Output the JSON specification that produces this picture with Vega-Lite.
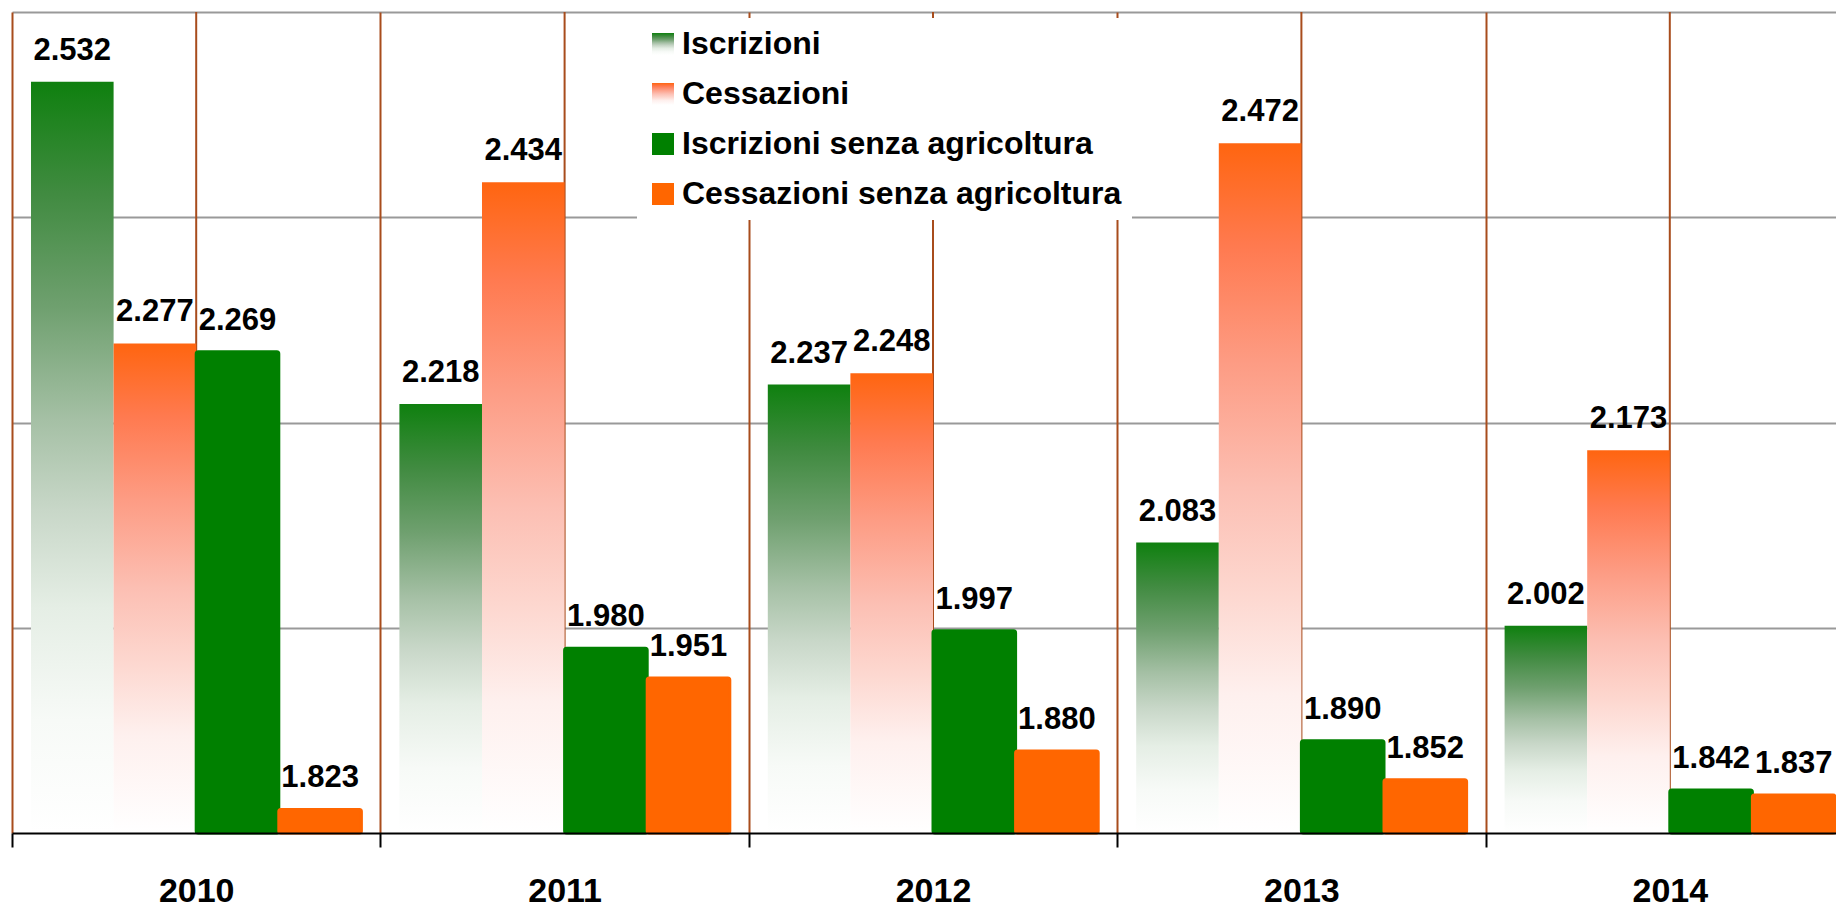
{
  "$schema": "https://vega.github.io/schema/vega-lite/v6.json",
  "width": 1842,
  "height": 821,
  "autosize": "none",
  "padding": {"left": 12, "top": 12, "right": 0, "bottom": 71},
  "background": "white",
  "config": {
    "font": "Liberation Sans",
    "view": {"stroke": null},
    "locale": {"number": {"decimal": ",", "thousands": ".", "grouping": [3], "currency": ["€", ""]}}
  },
  "data": {
    "values": [
      {"anno": "2010", "serie": "Iscrizioni", "valore": 2532},
      {"anno": "2011", "serie": "Iscrizioni", "valore": 2218},
      {"anno": "2012", "serie": "Iscrizioni", "valore": 2237},
      {"anno": "2013", "serie": "Iscrizioni", "valore": 2083},
      {"anno": "2014", "serie": "Iscrizioni", "valore": 2002},
      {"anno": "2010", "serie": "Cessazioni", "valore": 2277},
      {"anno": "2011", "serie": "Cessazioni", "valore": 2434},
      {"anno": "2012", "serie": "Cessazioni", "valore": 2248},
      {"anno": "2013", "serie": "Cessazioni", "valore": 2472},
      {"anno": "2014", "serie": "Cessazioni", "valore": 2173},
      {"anno": "2010", "serie": "Iscrizioni senza agricoltura", "valore": 2269},
      {"anno": "2011", "serie": "Iscrizioni senza agricoltura", "valore": 1980},
      {"anno": "2012", "serie": "Iscrizioni senza agricoltura", "valore": 1997},
      {"anno": "2013", "serie": "Iscrizioni senza agricoltura", "valore": 1890},
      {"anno": "2014", "serie": "Iscrizioni senza agricoltura", "valore": 1842},
      {"anno": "2010", "serie": "Cessazioni senza agricoltura", "valore": 1823},
      {"anno": "2011", "serie": "Cessazioni senza agricoltura", "valore": 1951},
      {"anno": "2012", "serie": "Cessazioni senza agricoltura", "valore": 1880},
      {"anno": "2013", "serie": "Cessazioni senza agricoltura", "valore": 1852},
      {"anno": "2014", "serie": "Cessazioni senza agricoltura", "valore": 1837}
    ]
  },
  "encoding": {
    "x": {
      "field": "anno",
      "type": "nominal",
      "title": null,
      "scale": {"paddingInner": 0, "paddingOuter": 0},
      "axis": {
        "labelFontSize": 34,
        "labelFontWeight": "bold",
        "labelColor": "black",
        "labelAngle": 0,
        "labelPadding": 27,
        "tickBand": "extent",
        "tickSize": 14,
        "tickColor": "black",
        "tickWidth": 2,
        "domainColor": "black",
        "domainWidth": 2,
        "grid": true,
        "gridColor": "#a84c1c",
        "gridWidth": 2,
        "gridOpacity": 1,
        "zindex": 1
      }
    }
  },
  "layer": [
    {
      "transform": [{"filter": "datum.serie === 'Iscrizioni'"}],
      "mark": {"type": "rule", "color": "#a84c1c", "strokeWidth": 2},
      "encoding": {"x": {"field": "anno", "type": "nominal"}}
    },
    {
      "transform": [{"filter": "datum.serie === 'Iscrizioni' || datum.serie === 'Cessazioni'"}],
      "mark": {"type": "bar"},
      "encoding": {
        "xOffset": {
          "field": "serie",
          "type": "nominal",
          "scale": {"domain": ["Iscrizioni", "Cessazioni", "Iscrizioni senza agricoltura", "Cessazioni senza agricoltura"], "paddingInner": 0, "paddingOuter": 0.23}
        },
        "y": {
          "field": "valore",
          "type": "quantitative",
          "title": null,
          "scale": {"domain": [1800, 2600], "zero": false, "nice": false},
          "axis": {
            "labels": false,
            "ticks": false,
            "domain": false,
            "grid": true,
            "gridColor": "#999999",
            "gridWidth": 2,
            "gridOpacity": 1,
            "values": [2000, 2200, 2400, 2600],
            "zindex": 0
          }
        },
        "y2": {"datum": 1800},
        "color": {
          "field": "serie",
          "type": "nominal",
          "scale": {
            "domain": ["Iscrizioni", "Cessazioni", "Iscrizioni senza agricoltura", "Cessazioni senza agricoltura"],
            "range": [
              {"expr": "{gradient: 'linear', x1: 0, y1: 0, x2: 0, y2: 1, stops: [{offset: 0, color: '#0f800f'}, {offset: 0.15, color: '#418b41'}, {offset: 0.3, color: '#6fa06f'}, {offset: 0.45, color: '#a5c0a5'}, {offset: 0.57, color: '#c8d7c8'}, {offset: 0.7, color: '#e5eee5'}, {offset: 0.85, color: '#f7faf7'}, {offset: 1, color: '#ffffff'}]}"},
              {"expr": "{gradient: 'linear', x1: 0, y1: 0, x2: 0, y2: 1, stops: [{offset: 0, color: '#ff6510'}, {offset: 0.15, color: '#ff7a50'}, {offset: 0.32, color: '#fd9c84'}, {offset: 0.5, color: '#fcbfb3'}, {offset: 0.65, color: '#fdd7cf'}, {offset: 0.8, color: '#fef0ee'}, {offset: 1, color: '#ffffff'}]}"},
              "#008000",
              "#ff6600"
            ]
          },
          "legend": {
            "title": null,
            "orient": "none",
            "legendX": 625,
            "legendY": 6,
            "direction": "vertical",
            "symbolType": "square",
            "symbolSize": 484,
            "symbolStrokeWidth": 0,
            "symbolOpacity": 1,
            "labelFontSize": 32,
            "labelFontWeight": "bold",
            "labelColor": "black",
            "labelFont": "Liberation Sans",
            "labelOffset": 3,
            "labelLimit": 700,
            "rowPadding": 18,
            "padding": 10,
            "fillColor": "white",
            "zindex": 2
          }
        }
      }
    },
    {
      "transform": [{"filter": "datum.serie === 'Iscrizioni senza agricoltura' || datum.serie === 'Cessazioni senza agricoltura'"}],
      "mark": {"type": "bar", "strokeWidth": 3, "cornerRadius": 2},
      "encoding": {
        "xOffset": {"field": "serie", "type": "nominal"},
        "y": {"field": "valore", "type": "quantitative"},
        "y2": {"datum": 1800},
        "color": {"field": "serie", "type": "nominal"},
        "stroke": {
          "field": "serie",
          "type": "nominal",
          "scale": {"domain": ["Iscrizioni senza agricoltura", "Cessazioni senza agricoltura"], "range": ["#008000", "#ff6600"]},
          "legend": null
        }
      }
    },
    {
      "mark": {"type": "text", "fontSize": 31, "fontWeight": "bold", "baseline": "alphabetic", "dy": -22, "color": "black"},
      "encoding": {
        "xOffset": {"field": "serie", "type": "nominal"},
        "y": {"field": "valore", "type": "quantitative"},
        "text": {"field": "valore", "type": "quantitative", "format": ",d"}
      }
    }
  ]
}
